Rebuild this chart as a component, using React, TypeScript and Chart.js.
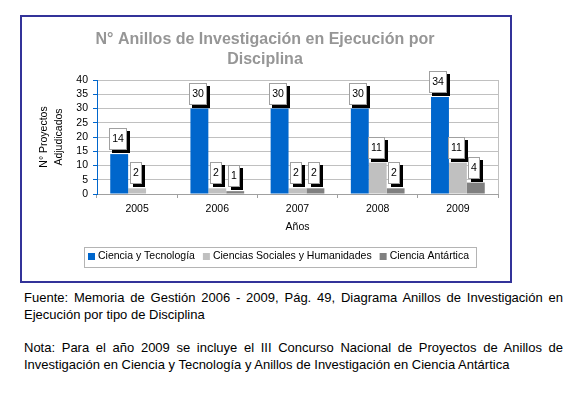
import React, { useEffect, useRef } from 'react';
import { Chart, registerables } from 'chart.js';

Chart.register(...registerables);

const FONT = "'Liberation Sans', Arial, sans-serif";
const FS = 10.5;

const years = ['2005', '2006', '2007', '2008', '2009'];
const cienciaTecnologia = [14, 30, 30, 30, 34];
const cienciasSociales = [2, 2, 2, 11, 11];
const cienciaAntartica: (number | null)[] = [null, 1, 2, 2, 4];
const seriesNames = ['Ciencia y Tecnología', 'Ciencias Sociales y Humanidades', 'Ciencia Antártica'];
const seriesColors = ['#0066cc', '#c0c0c0', '#808080'];
const yMin = 0;
const yMax = 40;
const yStep = 5;
const chartTitle = ['N° Anillos de Investigación en Ejecución por', 'Disciplina'];
const yAxisTitle = ['N° Proyectos', 'Adjudicados'];
const xAxisTitle = 'Años';

const fuenteLines = [
  'Fuente: Memoria de Gestión 2006 - 2009, Pág. 49, Diagrama Anillos de Investigación en',
  'Ejecución por tipo de Disciplina',
];
const notaLines = [
  'Nota: Para el año 2009 se incluye el III Concurso Nacional de Proyectos de Anillos de',
  'Investigación en Ciencia y Tecnología y Anillos de Investigación en Ciencia Antártica',
];

const boxLabelsPlugin = {
  id: 'boxLabels',
  afterDatasetsDraw(chart: any) {
    const ctx = chart.ctx;
    ctx.save();
    ctx.font = `${FS}px ${FONT}`;
    chart.data.datasets.forEach((ds: any, di: number) => {
      const meta = chart.getDatasetMeta(di);
      meta.data.forEach((bar: any, i: number) => {
        const v = ds.data[i];
        if (v == null || v === 0) return;
        const txt = String(v);
        const tw = ctx.measureText(txt).width;
        const w = Math.round(tw + 6);
        const h = 22;
        const left = Math.round(bar.x - (w + 3) / 2);
        const top = Math.round(bar.y - 4 - h);
        ctx.fillStyle = '#000';
        ctx.fillRect(left + 3, top + 3, w, h);
        ctx.fillStyle = '#fff';
        ctx.fillRect(left, top, w, h);
        ctx.strokeStyle = '#a0a0a0';
        ctx.lineWidth = 1;
        ctx.strokeRect(left + 0.5, top + 0.5, w - 1, h - 1);
        ctx.fillStyle = '#000';
        ctx.textAlign = 'center';
        ctx.textBaseline = 'middle';
        ctx.fillText(txt, left + w / 2, top + h / 2 + 0.5);
      });
    });
    ctx.restore();
  },
};

const frameAndLegendPlugin = {
  id: 'frameAndLegend',
  beforeDatasetsDraw(chart: any) {
    const { ctx, chartArea } = chart;
    ctx.save();
    ctx.strokeStyle = '#c0c0c0';
    ctx.lineWidth = 1;
    ctx.beginPath();
    ctx.moveTo(Math.round(chartArea.right) + 0.5, chartArea.top);
    ctx.lineTo(Math.round(chartArea.right) + 0.5, chartArea.bottom);
    ctx.stroke();
    ctx.restore();
  },
  afterDraw(chart: any) {
    const { ctx, chartArea } = chart;
    ctx.save();
    ctx.font = `${FS}px ${FONT}`;
    const left = Math.round(chartArea.left) - 13;
    const top = Math.round(chartArea.bottom) + 53;
    const h = 20;
    const cy = top + 9.5;
    let x = left + 4;
    ctx.textBaseline = 'middle';
    ctx.textAlign = 'left';
    seriesNames.forEach((name, i) => {
      ctx.fillStyle = seriesColors[i];
      ctx.fillRect(x, Math.round(cy - 3.5), 7, 7);
      x += 10;
      ctx.fillStyle = '#000';
      ctx.fillText(name, x, cy);
      x += ctx.measureText(name).width + 8;
    });
    const right = x - 8 + 7;
    ctx.strokeStyle = '#b4b4b4';
    ctx.lineWidth = 1;
    ctx.strokeRect(left + 0.5, top + 0.5, Math.round(right - left), h);
    ctx.restore();
  },
};

export default function App() {
  const ref = useRef<HTMLCanvasElement>(null);
  useEffect(() => {
    const chart = new Chart(ref.current as HTMLCanvasElement, {
      type: 'bar',
      data: {
        labels: years,
        datasets: [
          { label: seriesNames[0], data: cienciaTecnologia, backgroundColor: seriesColors[0] },
          { label: seriesNames[1], data: cienciasSociales, backgroundColor: seriesColors[1] },
          { label: seriesNames[2], data: cienciaAntartica, backgroundColor: seriesColors[2] },
        ],
      },
      options: {
        responsive: false,
        animation: false,
        devicePixelRatio: 1,
        layout: { padding: { left: 10, right: 12, top: 0, bottom: 44 } },
        datasets: { bar: { categoryPercentage: 0.67, barPercentage: 1 } },
        plugins: {
          legend: { display: false },
          tooltip: { enabled: false },
          title: {
            display: true,
            text: chartTitle,
            color: '#969696',
            font: { family: FONT, size: 16, weight: 'bold', lineHeight: 1.25 },
            padding: { top: 13, bottom: 10 },
          },
        },
        scales: {
          x: {
            grid: { drawOnChartArea: false, drawTicks: true, tickLength: 4, color: '#a0a0a0', offset: true },
            border: { color: '#a0a0a0' },
            ticks: { color: '#000', font: { family: FONT, size: FS }, padding: 5 },
            title: {
              display: true,
              text: xAxisTitle,
              color: '#000',
              font: { family: FONT, size: FS },
              padding: { top: 4, bottom: 4 },
            },
            afterFit: (s: any) => {
              s.height = 43;
            },
          },
          y: {
            min: yMin,
            max: yMax,
            ticks: {
              stepSize: yStep,
              autoSkip: false,
              color: '#000',
              font: { family: FONT, size: FS, lineHeight: 1 },
              padding: 5,
            },
            grid: { color: '#c0c0c0', tickLength: 4, tickColor: '#0066cc' },
            border: { color: '#0066cc' },
            title: {
              display: true,
              text: yAxisTitle,
              color: '#000',
              font: { family: FONT, size: FS, lineHeight: '15px' },
              padding: { top: 4.5, bottom: 0 },
            },
            afterFit: (s: any) => {
              s.width = 65;
            },
          },
        },
      } as any,
      plugins: [frameAndLegendPlugin, boxLabelsPlugin],
    });
    return () => chart.destroy();
  }, []);

  return (
    <div
      style={{
        position: 'absolute',
        left: 0,
        top: 0,
        width: 585,
        height: 398,
        background: '#fff',
        fontFamily: FONT,
      }}
    >
      <div
        style={{
          position: 'absolute',
          left: 20,
          top: 15,
          width: 488,
          height: 264,
          border: '2px solid #333399',
        }}
      >
        <canvas ref={ref} width={488} height={264} style={{ display: 'block', width: 488, height: 264 }} />
      </div>
      <div
        style={{
          position: 'absolute',
          left: 24,
          top: 289,
          width: 539,
          fontSize: 13,
          lineHeight: '17px',
          color: '#000',
        }}
      >
        <div style={{ textAlign: 'justify', textAlignLast: 'justify' }}>{fuenteLines[0]}</div>
        <div>{fuenteLines[1]}</div>
        <div style={{ textAlign: 'justify', textAlignLast: 'justify', marginTop: 16 }}>{notaLines[0]}</div>
        <div>{notaLines[1]}</div>
      </div>
    </div>
  );
}
